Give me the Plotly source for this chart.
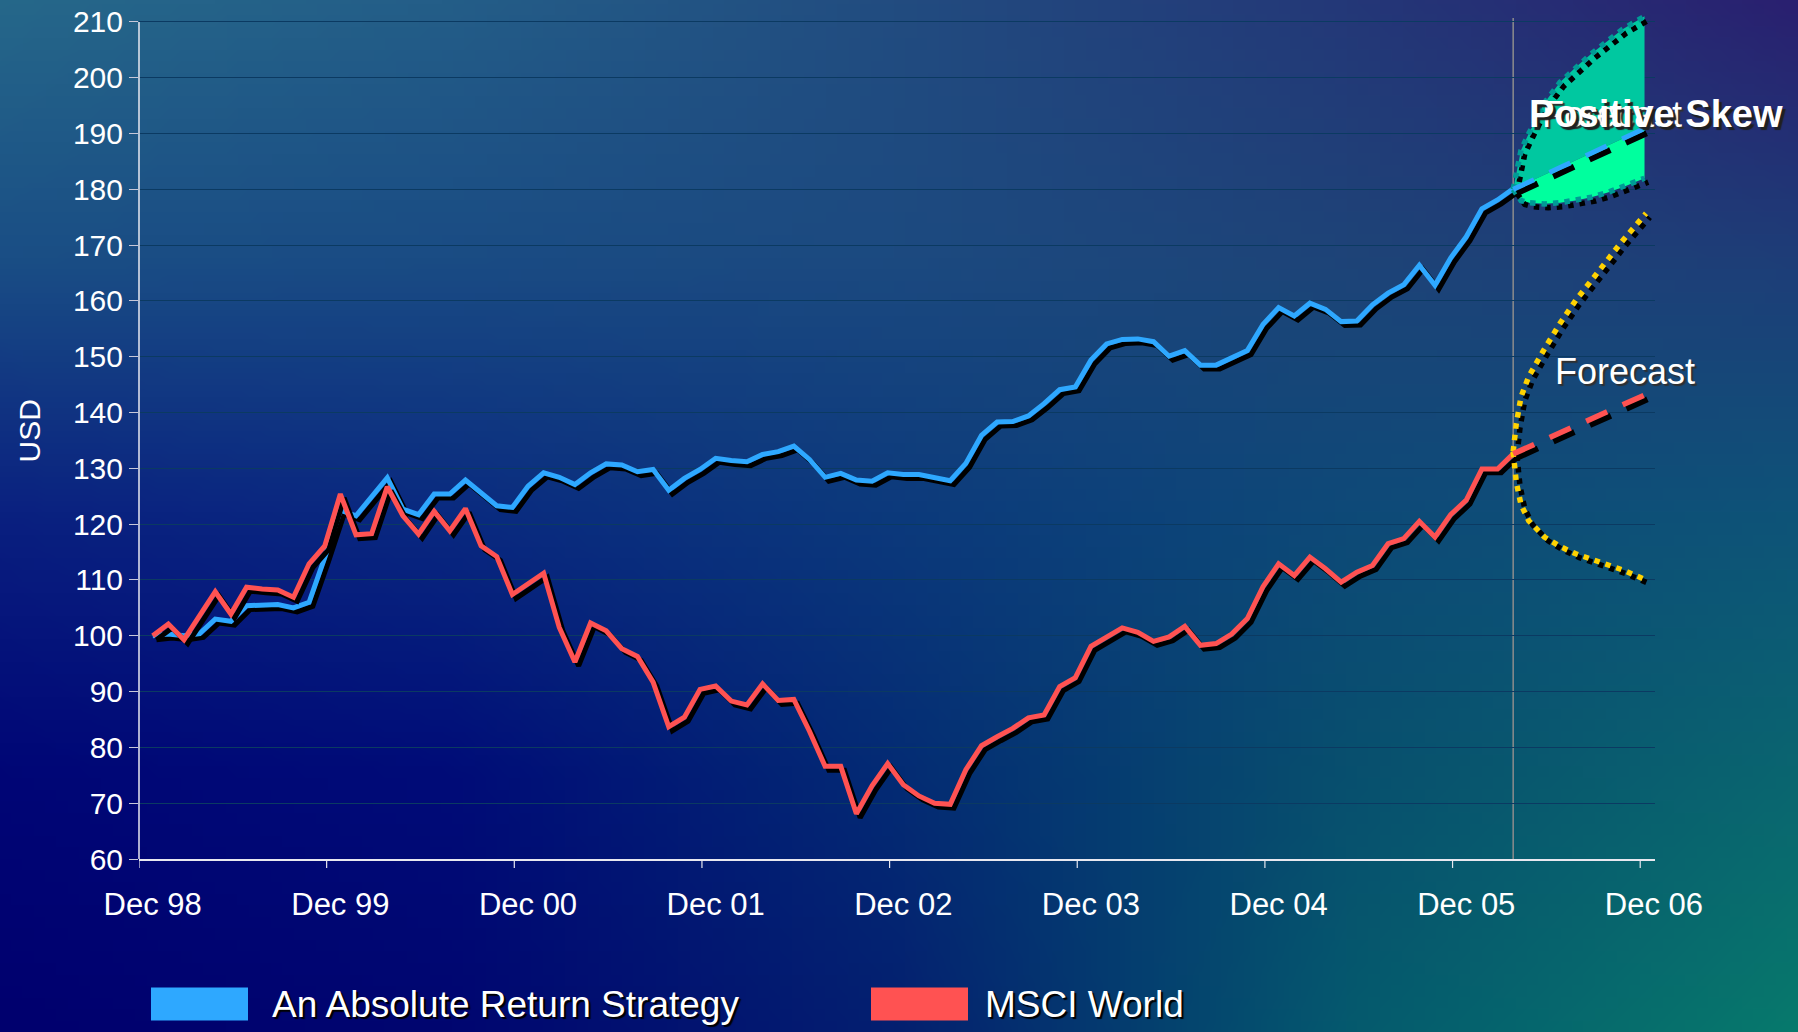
import base64
import struct
import zlib

import numpy as np
import plotly.graph_objects as go

# ---------------------------------------------------------------------------
# Data: month index 0 = Dec 1998, month 87 = Mar 2006 (both series start at 100)
# ---------------------------------------------------------------------------
months = list(range(88))

absolute_return = [
    100.0, 100.3, 100.0, 100.4, 103.0, 102.6, 105.4, 105.5, 105.6, 105.0,
    106.0, 114.0, 122.5, 121.5, 125.0, 128.3, 122.7, 121.7, 125.4, 125.4,
    127.9, 125.6, 123.3, 123.0, 126.8, 129.2, 128.4, 127.1, 129.2, 130.8,
    130.6, 129.4, 129.8, 126.1, 128.2, 129.8, 131.8, 131.4, 131.2, 132.5,
    133.0, 134.0, 131.6, 128.4, 129.1, 127.9, 127.7, 129.2, 128.9, 128.9,
    128.4, 127.8, 130.9, 135.9, 138.3, 138.4, 139.4, 141.6, 144.1, 144.6,
    149.4, 152.3, 153.1, 153.2, 152.7, 150.1, 151.1, 148.5, 148.5, 149.7,
    151.1, 155.8, 158.8, 157.3, 159.6, 158.5, 156.3, 156.4, 159.3, 161.4,
    162.9, 166.4, 162.8, 167.7, 171.5, 176.5, 178.1, 180.1,
]

msci_world = [
    100.0, 102.1, 99.3, 103.6, 107.9, 103.9, 108.7, 108.4, 108.2, 106.9,
    112.9, 116.1, 125.4, 118.1, 118.3, 126.7, 121.5, 118.2, 122.3, 118.8,
    122.8, 116.1, 114.2, 107.4, 109.3, 111.2, 101.5, 95.3, 102.3, 100.9,
    97.7, 96.3, 91.7, 83.7, 85.4, 90.4, 91.0, 88.3, 87.6, 91.4,
    88.4, 88.6, 82.9, 76.6, 76.6, 68.1, 73.1, 77.1, 73.3, 71.3,
    70.0, 69.8, 76.0, 80.3, 81.9, 83.4, 85.3, 85.8, 90.9, 92.5,
    98.1, 99.8, 101.4, 100.6, 99.0, 99.8, 101.7, 98.3, 98.6, 100.3,
    103.1, 108.8, 112.9, 110.8, 114.1, 112.0, 109.6, 111.4, 112.6, 116.5,
    117.4, 120.5, 117.7, 121.7, 124.3, 129.9, 129.9, 132.6,
]

# Forecast fan for the absolute return strategy (positively skewed)
skew_x = [87, 87.5, 88, 89, 90, 91, 92, 93, 94, 95.4]
skew_upper = [180.0, 187.0, 190.0, 195.5, 199.2, 201.9, 204.3, 206.5, 208.7, 211.0]
skew_mean = [180.0, 180.6, 181.3, 182.6, 183.9, 185.2, 186.5, 187.8, 189.1, 190.9]
skew_lower = [180.0, 178.0, 177.6, 177.4, 177.6, 178.0, 178.6, 179.4, 180.4, 182.0]

# Forecast range for MSCI World
msci_fc_x = [87, 87.2, 87.5, 88, 89, 90, 91, 92, 93, 94, 95.5]
msci_fc_upper = [133.0, 138.0, 142.8, 146.5, 151.4, 156.0, 160.1, 163.7, 167.4, 170.8, 175.7]
msci_fc_lower = [133.0, 127.5, 123.5, 120.6, 117.7, 116.0, 114.7, 113.7, 112.7, 111.8, 110.0]
msci_mean_x = [87, 96]
msci_mean = [132.6, 143.9]

forecast_start = 87

tick_months = [0, 12, 24, 36, 48, 60, 72, 84, 96]
tick_labels = ["Dec 98", "Dec 99", "Dec 00", "Dec 01", "Dec 02",
               "Dec 03", "Dec 04", "Dec 05", "Dec 06"]
y_ticks = list(range(60, 211, 10))

series_names = ["An Absolute Return Strategy", "MSCI World"]

# ---------------------------------------------------------------------------
# Styling
# ---------------------------------------------------------------------------
W, H = 1798, 1032
ML, MR, MT, MB = 139, 143, 5, 173
X_RANGE = [-0.876, 96.07]
Y_RANGE = [60, 212.5]
PLOT_W = W - ML - MR
PLOT_H = H - MT - MB

FONT = "Liberation Sans, Arial, sans-serif"
BLUE = "#2EA8FF"
RED = "#FF5252"
YELLOW = "#FFD200"
TEAL_DOT = "#009B96"
FILL_UP = "#00C8A0"
FILL_LOW = "#00FF9E"
GRID = "#0B3A62"
LW = 5

# drop shadow offset (months, index points)
SDX, SDY = 0.24, 0.7


def xp(px):
    return (px - ML) / PLOT_W


def yp(py):
    return (H - MB - py) / PLOT_H


def png_uri(rgb):
    h, w, _ = rgb.shape
    raw = b"".join(b"\x00" + rgb[r].tobytes() for r in range(h))

    def chunk(tag, data):
        return (struct.pack(">I", len(data)) + tag + data
                + struct.pack(">I", zlib.crc32(tag + data) & 0xFFFFFFFF))

    png = (b"\x89PNG\r\n\x1a\n"
           + chunk(b"IHDR", struct.pack(">IIBBBBB", w, h, 8, 2, 0, 0, 0))
           + chunk(b"IDAT", zlib.compress(raw, 9))
           + chunk(b"IEND", b""))
    return "data:image/png;base64," + base64.b64encode(png).decode()


def backdrop():
    # slide-style backdrop: teal top-left, navy bottom-left, teal bottom-right
    stops = [
        ["#26688A", "#245E88", "#224C80", "#243878", "#2A2070"],
        ["#1A4E85", "#1A4C84", "#1C4A80", "#1E4478", "#1E3E78"],
        ["#0A2080", "#0A2A80", "#0C3A7C", "#0E4A78", "#0E5478"],
        ["#000676", "#000C78", "#042C74", "#08506E", "#0A6670"],
        ["#00006E", "#000670", "#042070", "#055A6E", "#077A6C"],
    ]
    g = np.array([[[int(c[i:i + 2], 16) for i in (1, 3, 5)] for c in row]
                  for row in stops], dtype=float)
    rows, cols = 90, 160
    ry = np.linspace(0, g.shape[0] - 1, rows)
    rx = np.linspace(0, g.shape[1] - 1, cols)
    tmp = np.empty((g.shape[0], cols, 3))
    for r in range(g.shape[0]):
        for ch in range(3):
            tmp[r, :, ch] = np.interp(rx, np.arange(g.shape[1]), g[r, :, ch])
    out = np.empty((rows, cols, 3))
    for c in range(cols):
        for ch in range(3):
            out[:, c, ch] = np.interp(ry, np.arange(g.shape[0]), tmp[:, c, ch])
    return png_uri(np.clip(out, 0, 255).astype(np.uint8))


def shadow(x, y, width, dash=None):
    return go.Scatter(
        x=[v + SDX for v in x], y=[v - SDY for v in y], mode="lines",
        line=dict(color="black", width=width, dash=dash),
        hoverinfo="skip", showlegend=False)


def line(x, y, color, width, dash=None, name=None):
    return go.Scatter(
        x=x, y=y, mode="lines", name=name,
        line=dict(color=color, width=width, dash=dash),
        showlegend=False)


fig = go.Figure()

# history lines with drop shadows
fig.add_trace(shadow(months, absolute_return, LW))
fig.add_trace(line(months, absolute_return, BLUE, LW, name=series_names[0]))
fig.add_trace(shadow(months, msci_world, LW))
fig.add_trace(line(months, msci_world, RED, LW, name=series_names[1]))

# positive-skew fan: upper and lower bands around the mean path
fig.add_trace(go.Scatter(x=skew_x, y=skew_mean, mode="lines",
                         line=dict(width=0), hoverinfo="skip", showlegend=False))
fig.add_trace(go.Scatter(x=skew_x, y=skew_upper, mode="lines", fill="tonexty",
                         fillcolor=FILL_UP, line=dict(width=0),
                         hoverinfo="skip", showlegend=False))
fig.add_trace(go.Scatter(x=skew_x, y=skew_mean, mode="lines",
                         line=dict(width=0), hoverinfo="skip", showlegend=False))
fig.add_trace(go.Scatter(x=skew_x, y=skew_lower, mode="lines", fill="tonexty",
                         fillcolor=FILL_LOW, line=dict(width=0),
                         hoverinfo="skip", showlegend=False))

DOT = "5.5px,6px"
DASH = "23px,17px"
fig.add_trace(shadow(skew_x, skew_upper, 5.5, DOT))
fig.add_trace(line(skew_x, skew_upper, TEAL_DOT, 5.5, DOT))
fig.add_trace(shadow(skew_x, skew_lower, 5.5, DOT))
fig.add_trace(line(skew_x, skew_lower, TEAL_DOT, 5.5, DOT))
fig.add_trace(shadow(skew_x, skew_mean, 6, DASH))
fig.add_trace(line(skew_x, skew_mean, BLUE, 5, DASH))

# MSCI World forecast range and mean
fig.add_trace(shadow(msci_fc_x, msci_fc_upper, 5.5, DOT))
fig.add_trace(line(msci_fc_x, msci_fc_upper, YELLOW, 5.5, DOT))
fig.add_trace(shadow(msci_fc_x, msci_fc_lower, 5.5, DOT))
fig.add_trace(line(msci_fc_x, msci_fc_lower, YELLOW, 5.5, DOT))
fig.add_trace(shadow(msci_mean_x, msci_mean, 6, DASH))
fig.add_trace(line(msci_mean_x, msci_mean, RED, 5.5, DASH))

shapes = [
    # forecast start marker
    dict(type="line", xref="x", yref="y", x0=forecast_start, x1=forecast_start,
         y0=60, y1=210.7, line=dict(color="#8C8C8C", width=1.5), layer="below"),
    # y axis line
    dict(type="line", xref="paper", yref="y", x0=0, x1=0, y0=58.6, y1=210,
         line=dict(color="#E8E8F0", width=1.5)),
    # legend swatches
    dict(type="rect", xref="paper", yref="paper", x0=xp(151), x1=xp(248),
         y0=yp(1021), y1=yp(988), fillcolor=BLUE, line=dict(width=0)),
    dict(type="rect", xref="paper", yref="paper", x0=xp(871), x1=xp(968),
         y0=yp(1021), y1=yp(988), fillcolor=RED, line=dict(width=0)),
]
# x-axis tick marks sit between the monthly categories
for t in tick_months:
    xt = t - 0.876
    if xt < X_RANGE[1]:
        shapes.append(dict(type="line", xref="x", yref="paper", x0=xt, x1=xt,
                           y0=0, y1=-9 / PLOT_H,
                           line=dict(color="#E8E8F0", width=1.2)))

text_shadow = "2px 2px 1px #000000"
annotations = [
    dict(text="USD", textangle=-90, xref="paper", yref="paper",
         x=xp(30), y=yp(430), xanchor="center", yanchor="middle",
         showarrow=False, font=dict(family=FONT, size=30, color="white")),
    dict(text=series_names[0], xref="paper", yref="paper", x=xp(270),
         y=yp(1005), xanchor="left", yanchor="middle", showarrow=False,
         font=dict(family=FONT, size=37, color="white", shadow=text_shadow)),
    dict(text=series_names[1], xref="paper", yref="paper", x=xp(983),
         y=yp(1005), xanchor="left", yanchor="middle", showarrow=False,
         font=dict(family=FONT, size=37, color="white", shadow=text_shadow)),
    dict(text="Forecast", xref="paper", yref="paper", x=xp(1625), y=yp(370),
         xanchor="center", yanchor="middle", showarrow=False,
         font=dict(family=FONT, size=36, color="white",
                   shadow="2px 2px 1px #303030")),
    dict(text="Forecast", xref="paper", yref="paper", x=xp(1612), y=yp(112),
         xanchor="center", yanchor="middle", showarrow=False,
         font=dict(family=FONT, size=36, color="white",
                   shadow="2px 2px 1px #303030")),
    dict(text="<b>Positive Skew</b>", xref="paper", yref="paper",
         x=xp(1656), y=yp(111), xanchor="center", yanchor="middle",
         showarrow=False,
         font=dict(family=FONT, size=38, color="white",
                   shadow="3px 3px 1px #202020")),
]

fig.update_layout(
    width=W, height=H,
    margin=dict(l=ML, r=MR, t=MT, b=MB, pad=0),
    paper_bgcolor="#0A2A7A",
    plot_bgcolor="rgba(0,0,0,0)",
    showlegend=False,
    font=dict(family=FONT, color="white"),
    images=[dict(source=backdrop(), xref="paper", yref="paper",
                 x=(-ML - 6) / PLOT_W, y=1 + (MT + 6) / PLOT_H,
                 sizex=(W + 12) / PLOT_W, sizey=(H + 12) / PLOT_H,
                 xanchor="left", yanchor="top",
                 sizing="stretch", layer="below")],
    shapes=shapes,
    annotations=annotations,
    xaxis=dict(
        range=X_RANGE, tickmode="array", tickvals=tick_months,
        ticktext=tick_labels, ticks="outside", ticklen=9,
        tickcolor="rgba(0,0,0,0)", ticklabelstandoff=8,
        tickfont=dict(family=FONT, size=31, color="white"),
        showgrid=False, zeroline=False, showline=True,
        linecolor="#E8E8F0", linewidth=1.5,
    ),
    yaxis=dict(
        range=Y_RANGE, tickmode="array", tickvals=y_ticks,
        ticks="outside", ticklen=9, tickcolor="#C8C8D8", tickwidth=1.2,
        tickfont=dict(family=FONT, size=30, color="white"),
        showgrid=True, gridcolor=GRID, gridwidth=1.2,
        zeroline=False, showline=False,
    ),
)

fig.write_html("out.html")
